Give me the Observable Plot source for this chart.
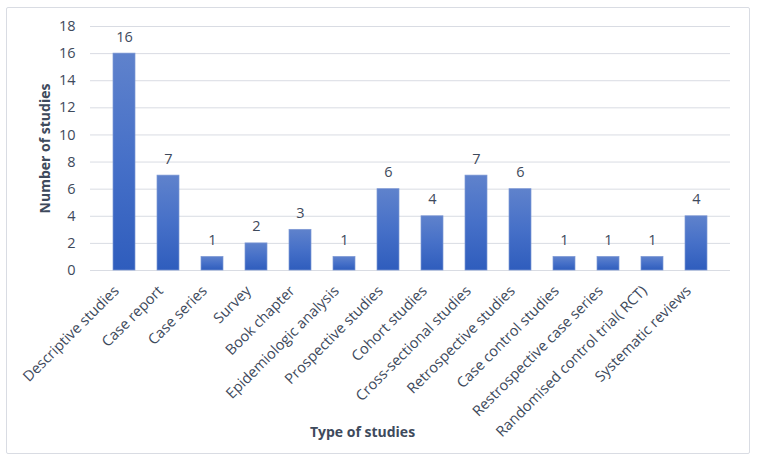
<!DOCTYPE html>
<html>
<head>
<meta charset="utf-8">
<script src="https://cdn.jsdelivr.net/npm/d3@7"></script>
<script src="https://cdn.jsdelivr.net/npm/@observablehq/plot@0.6"></script>
<style>
  html, body { margin: 0; padding: 0; background: #fff; }
  #wrap { position: relative; width: 757px; height: 461px; }
  #border { position: absolute; left: 6px; top: 7px; width: 742px; height: 445px;
            border: 1px solid #d9dce3; border-radius: 2px; }
  #chart { position: absolute; left: 0; top: 0; }
</style>
</head>
<body>
<div id="wrap"><div id="border"></div><div id="chart"></div></div>
<script>
// Study types and counts
const studyTypes = [
  "Descriptive studies", "Case report", "Case series", "Survey", "Book chapter",
  "Epidemiologic analysis", "Prospective studies", "Cohort studies",
  "Cross-sectional studies", "Retrospective studies", "Case control studies",
  "Restrospective case series", "Randomised control trial( RCT)", "Systematic reviews"
];
const studyCounts = [16, 7, 1, 2, 3, 1, 6, 4, 7, 6, 1, 1, 1, 4];
const yTicks = [0, 2, 4, 6, 8, 10, 12, 14, 16, 18];
const xTitle = "Type of studies";
const yTitle = "Number of studies";

const data = studyTypes.map((type, i) => ({type, count: studyCounts[i]}));

const textColor = "#3e4a5c";
const font = "'Open Sans', 'Noto Sans', sans-serif";

const chart = Plot.plot({
  width: 757,
  height: 461,
  marginLeft: 90,
  marginRight: 27,
  marginTop: 26,
  marginBottom: 191,
  style: {fontFamily: font, fontSize: "14px", color: textColor, background: "transparent"},
  x: {domain: studyTypes, padding: 0.5, label: null, axis: null},
  y: {domain: [0, 18], label: null},
  marks: [
    Plot.gridY(yTicks, {stroke: "#d9dce3", strokeOpacity: 1, strokeWidth: 1}),
    Plot.barY(data, {x: "type", y: "count", fill: "url(#barGrad)", stroke: "#7d98d4", strokeWidth: 0.7}),
    // value labels above the bars
    Plot.text(data, {x: "type", y: "count", text: d => String(d.count), dy: -12, lineAnchor: "bottom",
      fill: textColor, fontSize: 14.5}),
    Plot.axisY({ticks: yTicks, tickSize: 0, tickPadding: 15, label: null, fontSize: 14.5, fill: textColor}),
    // category labels, slanted
    Plot.text(studyTypes, {x: d => d, frameAnchor: "bottom", rotate: -45, textAnchor: "end",
      lineAnchor: "middle", dx: -8, dy: 18, fontSize: 14.6, fill: textColor}),
    Plot.text([yTitle], {frameAnchor: "left", dx: -45, rotate: -90, textAnchor: "middle",
      fontWeight: "bold", fontSize: 14, fill: textColor}),
    Plot.text([xTitle], {frameAnchor: "bottom", dx: -48, dy: 166, fontWeight: "bold", fontSize: 14, fill: textColor})
  ]
});

// Vertical gradient used by each bar (lighter at the top)
const defs = d3.select(chart).insert("defs", ":first-child");
const grad = defs.append("linearGradient")
  .attr("id", "barGrad").attr("x1", 0).attr("y1", 0).attr("x2", 0).attr("y2", 1);
grad.append("stop").attr("offset", "0%").attr("stop-color", "#5f82cc");
grad.append("stop").attr("offset", "50%").attr("stop-color", "#4670c8");
grad.append("stop").attr("offset", "100%").attr("stop-color", "#2f5dbd");

document.getElementById("chart").appendChild(chart);
</script>
</body>
</html>
